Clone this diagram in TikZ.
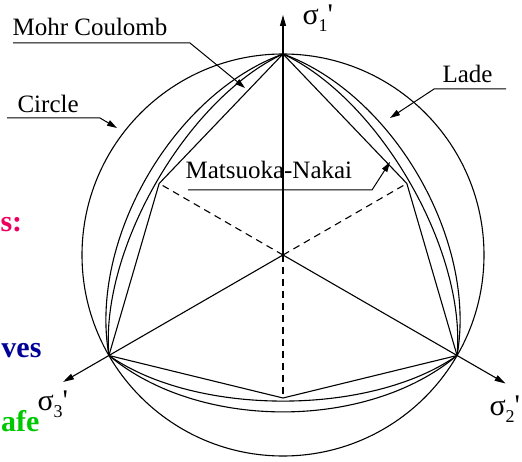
\documentclass[tikz,border=0pt]{standalone}
\usepackage{fontspec}
\setmainfont{Liberation Serif}
\usetikzlibrary{arrows.meta, calc}
\definecolor{slidered}{RGB}{235,0,95}
\definecolor{slideblue}{RGB}{0,0,150}
\definecolor{slidegreen}{RGB}{0,200,0}

\begin{document}
\begin{tikzpicture}[x=1pt, y=1pt, line width=1.1pt,
    lbl/.style={font=\fontsize{25}{30}\selectfont, inner sep=0pt},
    sig/.style={font=\fontsize{30}{36}\selectfont, inner sep=0pt},
    frag/.style={font=\fontsize{30}{36}\selectfont\bfseries, inner sep=0pt},
    leader/.style={line width=1pt, -{Triangle[length=10pt, width=6pt]}},
    axis/.style={-{Triangle[length=11pt, width=6pt]}},
    mcdash/.style={dash pattern=on 7pt off 5pt}]
    \useasboundingbox (0,0) rectangle (522,461);

    % centre, compression and extension corners
    \coordinate (O) at (283,206);
    \path (O) ++(90:201) coordinate (c1);
    \path (O) ++(330:201) coordinate (c2);
    \path (O) ++(210:201) coordinate (c3);
    \path (O) ++(30:143) coordinate (e1);
    \path (O) ++(270:143) coordinate (e2);
    \path (O) ++(150:143) coordinate (e3);

    % axes
    \coordinate (a1) at (283,446);
    \path (O) ++(330:257) coordinate (a2);
    \path (O) ++(210:254) coordinate (a3);
    \draw[axis] (O) -- (a1);
    \draw[axis] (O) -- (a2);
    \draw[axis] (O) -- (a3);

    % circle
    \draw (O) circle[radius=201];

    % Mohr Coulomb hexagon
    \draw (c1) -- (e1) -- (c2) -- (e2) -- (c3) -- (e3) -- cycle;
    \foreach \e in {e1, e2, e3}
        \draw[mcdash] (O) -- (\e);

    % Matsuoka-Nakai and Lade
    \foreach \a/\b in {c1/c2, c2/c3, c3/c1} {
        \draw (\a) .. controls ($(\a)!106pt!35:(\b)$) and ($(\b)!106pt!-35:(\a)$) .. (\b);
        \draw (\a) .. controls ($(\a)!117pt!40:(\b)$) and ($(\b)!117pt!-40:(\a)$) .. (\b);
    }

    % labels
    \node[lbl, anchor=base west] (mc) at (12,425) {Mohr Coulomb};
    \node[lbl, anchor=base west] (ci) at (17,348) {Circle};
    \node[lbl, anchor=base west] (la) at (442,378) {Lade};
    \node[lbl, anchor=base west] (mn) at (185,282) {Matsuoka-Nakai};
    \coordinate (mctip) at (245,373);
    \coordinate (citip) at (117,333);
    \coordinate (latip) at (390,343);
    \coordinate (mntip) at (390,299);
    \draw[leader] ($(mc.base west)+(1,-7)$) -- ++(177,0) -- (mctip);
    \draw[leader] ($(ci.base west)+(-10,-5)$) -- ++(93,0) -- (citip);
    \draw[leader] ($(la.base east)+(13,-6)$) -- ++(-72,0) -- (latip);
    \draw[leader] ($(mn.base west)+(3,-11)$) -- ++(184,0) -- (mntip);

    \node[sig, anchor=base west] (s1) at (302,436)
        {σ\raisebox{-7pt}{\fontsize{18}{18}\selectfont 1}\textquotesingle};
    \node[sig, anchor=base west] (s2) at (489,46)
        {σ\raisebox{-7pt}{\fontsize{18}{18}\selectfont 2}\textquotesingle};
    \node[sig, anchor=base west] (s3) at (37,51)
        {σ\raisebox{-7pt}{\fontsize{18}{18}\selectfont 3}\textquotesingle};

    % slide text at the left edge
    \node[frag, text=slidered, anchor=base west] (fs) at (0,229) {s:};
    \node[frag, text=slideblue, anchor=base east] (fv) at (42,104) {ves};
    \node[frag, text=slidegreen, anchor=base east] (fa) at (40,30) {afe};
\end{tikzpicture}
\end{document}
